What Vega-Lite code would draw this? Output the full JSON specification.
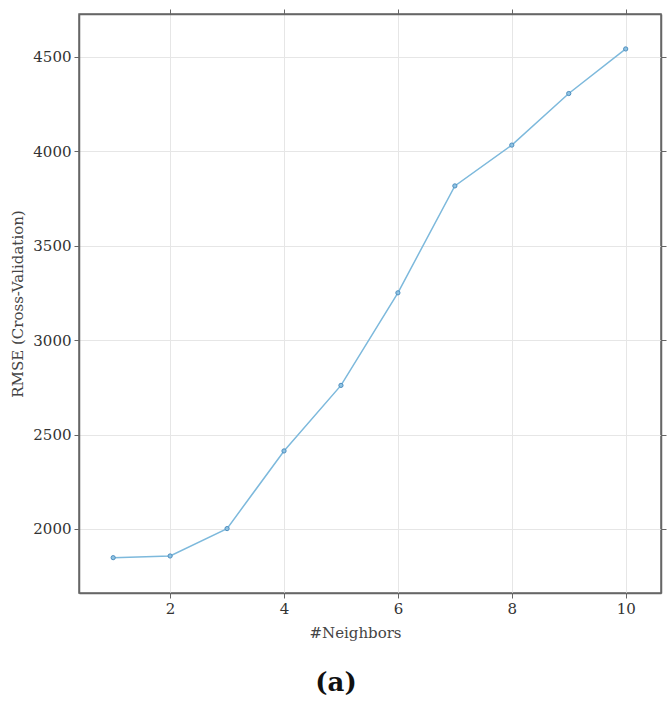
{
  "$schema": "https://vega.github.io/schema/vega-lite/v6.json",
  "width": 582,
  "height": 579,
  "autosize": {"type": "none"},
  "padding": {"left": 79, "top": 14, "right": 11, "bottom": 111},
  "background": "white",
  "title": {
    "text": "(a)",
    "orient": "bottom",
    "anchor": "middle",
    "font": "DejaVu Serif",
    "fontSize": 26,
    "fontWeight": "bold",
    "color": "#111111",
    "offset": 30,
    "dx": -34
  },
  "config": {
    "view": {"stroke": "#666666", "strokeWidth": 1.5},
    "axis": {
      "labelFont": "DejaVu Serif",
      "titleFont": "DejaVu Serif",
      "labelFontSize": 15,
      "titleFontSize": 15,
      "labelColor": "#333333",
      "titleColor": "#444444",
      "titleFontWeight": "normal",
      "domainColor": "#666666",
      "domainWidth": 1.5,
      "tickColor": "#666666",
      "tickSize": 5,
      "gridColor": "#e6e6e6",
      "gridWidth": 1
    }
  },
  "data": {
    "values": [
      {"k": 1, "rmse": 1848},
      {"k": 2, "rmse": 1857},
      {"k": 3, "rmse": 2002},
      {"k": 4, "rmse": 2413},
      {"k": 5, "rmse": 2760},
      {"k": 6, "rmse": 3250},
      {"k": 7, "rmse": 3816},
      {"k": 8, "rmse": 4032},
      {"k": 9, "rmse": 4305},
      {"k": 10, "rmse": 4541}
    ]
  },
  "layer": [
    {
      "mark": {
        "type": "line", "color": "#7db9dc", "strokeWidth": 1.5,
        "point": {"filled": true, "size": 18, "color": "#8fc3e3", "stroke": "#4f8fbf", "strokeWidth": 1}
      },
      "encoding": {
        "x": {
          "field": "k", "type": "quantitative",
          "scale": {"domain": [0.4, 10.62], "nice": false, "zero": false},
          "axis": {"values": [2, 4, 6, 8, 10], "format": "d", "title": "#Neighbors", "labelPadding": 3, "titlePadding": 9, "titleX": 276}
        },
        "y": {
          "field": "rmse", "type": "quantitative",
          "scale": {"domain": [1661, 4726], "nice": false, "zero": false},
          "axis": {"values": [2000, 2500, 3000, 3500, 4000, 4500], "format": "d", "title": "RMSE (Cross-Validation)", "labelPadding": 3, "titlePadding": 7}
        }
      }
    },
    {
      "mark": {"type": "point", "opacity": 0},
      "encoding": {
        "x": {
          "field": "k", "type": "quantitative",
          "axis": {"orient": "top", "values": [2, 4, 6, 8, 10], "labels": false, "grid": false, "title": null, "tickSize": 5}
        },
        "y": {
          "field": "rmse", "type": "quantitative",
          "axis": {"orient": "right", "values": [2000, 2500, 3000, 3500, 4000, 4500], "labels": false, "grid": false, "title": null, "tickSize": 5}
        }
      }
    }
  ],
  "resolve": {"axis": {"x": "independent", "y": "independent"}}
}
